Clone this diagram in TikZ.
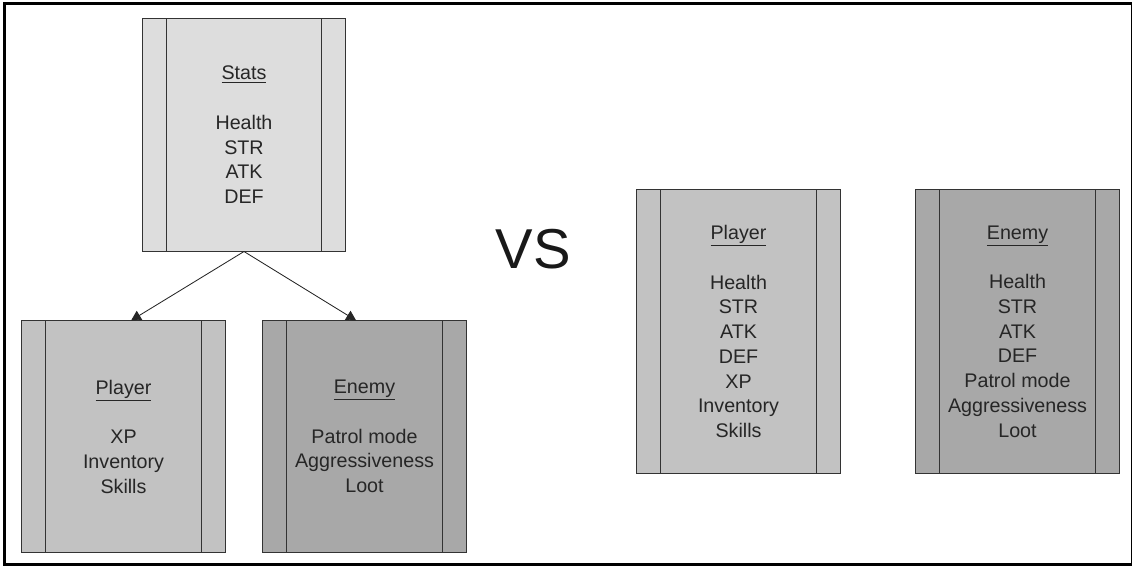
\documentclass[tikz,border=0pt]{standalone}
\usepackage{fontspec}
\setmainfont{Liberation Sans}
\usetikzlibrary{arrows.meta}

\definecolor{statsgray}{HTML}{DDDDDD}
\definecolor{playergray}{HTML}{C2C2C2}
\definecolor{enemygray}{HTML}{A8A8A8}
\definecolor{edgegray}{HTML}{333333}

\tikzstyle{classbox}=[draw=edgegray, line width=0.7pt, rectangle, minimum width=5.075cm, inner sep=0pt, align=center,
  font=\fontsize{14}{17.6}\selectfont, text=black!85,
  path picture={\draw[edgegray, line width=0.7pt]
    ([xshift=0.6cm]path picture bounding box.north west) -- ([xshift=0.6cm]path picture bounding box.south west)
    ([xshift=-0.6cm]path picture bounding box.north east) -- ([xshift=-0.6cm]path picture bounding box.south east);}]
\tikzstyle{inherit}=[-{Triangle[length=7pt,width=7.5pt]}, line width=0.6pt, draw=black!85]

\begin{document}
\begin{tikzpicture}[x=0.025cm, y=-0.025cm]
    \useasboundingbox (0,0) rectangle (1134,569);
    \draw [black, line width=0.8pt] (4.5,3.5) rectangle (1131.5,564);
    \draw [black, line width=2.2pt] (4.5,564.5) -- (4.5,3.5) -- (1131.5,3.5);
    \draw [black, line width=2.2pt] (3.5,564.5) -- (1132,564.5);
    \node [classbox, fill=statsgray, minimum height=5.8cm] (stats) at (244,135)
        {\underline{Stats}\\[17.6pt]Health\\STR\\ATK\\DEF};
    \node [classbox, fill=playergray, minimum height=5.775cm] (player) at (123.5,436.5)
        {\underline{Player}\\[17.6pt]XP\\Inventory\\Skills};
    \node [classbox, fill=enemygray, minimum height=5.775cm] (enemy) at (364.5,436.5)
        {\underline{Enemy}\\[17.6pt]Patrol mode\\Aggressiveness\\Loot};
    \draw [inherit] (stats.south) -- ([xshift=0.19cm]player.north);
    \draw [inherit] (stats.south) -- ([xshift=-0.21cm]enemy.north);
    \node [font=\fontsize{40}{44}\selectfont, text=black!90] (vs) at (533,249) {VS};
    \node [classbox, fill=playergray, minimum height=7.075cm] (fullplayer) at (738.5,331.5)
        {\underline{Player}\\[17.6pt]Health\\STR\\ATK\\DEF\\XP\\Inventory\\Skills};
    \node [classbox, fill=enemygray, minimum height=7.075cm] (fullenemy) at (1017.5,331.5)
        {\underline{Enemy}\\[17.6pt]Health\\STR\\ATK\\DEF\\Patrol mode\\Aggressiveness\\Loot};
\end{tikzpicture}
\end{document}
